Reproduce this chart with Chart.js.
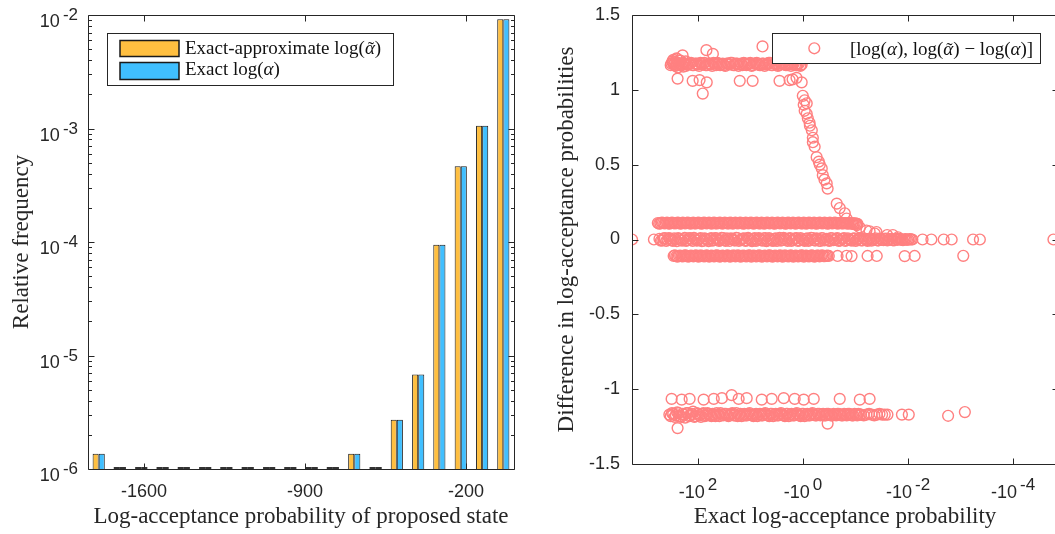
<!DOCTYPE html>
<html>
<head>
<meta charset="utf-8">
<script src="https://cdn.jsdelivr.net/npm/chart.js@4.4.1/dist/chart.umd.min.js"></script>
<style>
  html, body { margin: 0; padding: 0; background: #fff; overflow: hidden; }
  #wrap { position: relative; width: 1055px; height: 534px; overflow: hidden; }
  canvas { position: absolute; top: 0; }
  #histChart { left: 0; }
  #diffChart { left: 530px; }
</style>
</head>
<body>
<div id="wrap">
  <canvas id="histChart" width="530" height="534"></canvas>
  <canvas id="diffChart" width="545" height="534"></canvas>
</div>
<script>
// ---- histogram of log-acceptance probabilities ----
const binCenters = [-1797, -1705, -1612, -1519, -1427, -1334, -1242, -1149, -1056, -964,
                    -871, -779, -686, -593, -501, -408, -316, -223, -130, -38];
const freqApprox = [1.36e-6, 0, 0, 0, 0, 0, 0, 0, 0, 0,
                    0, 0, 1.36e-6, 0, 2.72e-6, 6.8e-6, 9.45e-5, 4.66e-4, 1.06e-3, 9.16e-3];
const freqExact  = [1.36e-6, 0, 0, 0, 0, 0, 0, 0, 0, 0,
                    0, 0, 1.36e-6, 0, 2.72e-6, 6.8e-6, 9.45e-5, 4.66e-4, 1.06e-3, 9.16e-3];
const histTicks = [-1600, -900, -200];
const histDecades = [-6, -5, -4, -3, -2];

// ---- difference scatter: [exact log(alpha), log(alpha~) - log(alpha)] ----
const diffXExponents = [2, 0, -2, -4];
const diffYTicks = [-1.5, -1, -0.5, 0, 0.5, 1, 1.5];

const topBand = [[-330,1.165],[-320,1.175],[-305,1.19],[-295,1.2],[-285,1.17],[-270,1.185],[-254,1.165],[-250,1.205],[-240,1.15],[-226,1.175],[-215,1.195],[-202,1.17],[-190,1.155],[-180,1.175],[-170,1.19],[-160,1.17],[-143,1.175],[-127,1.165],[-113,1.175],[-101,1.17],[-90,1.18],[-80,1.17],[-71.5,1.165],[-63.7,1.175],[-56.8,1.17],[-50.6,1.18],[-45.1,1.165],[-40.2,1.175],[-35.8,1.17],[-31.9,1.165],[-28.4,1.175],[-25.3,1.17],[-22.6,1.18],[-20.1,1.165],[-17.9,1.175],[-16,1.17],[-14.2,1.165],[-12.7,1.175],[-11.3,1.17],[-10.1,1.18],[-9,1.165],[-8,1.175],[-7.15,1.17],[-6.37,1.165],[-5.68,1.175],[-5.06,1.17],[-4.51,1.18],[-4.02,1.165],[-3.58,1.175],[-3.19,1.17],[-2.84,1.165],[-2.53,1.175],[-2.26,1.17],[-2.01,1.165],[-1.79,1.175],[-1.6,1.17],[-1.42,1.165],[-1.27,1.17],[-1.13,1.16],[-1.06,1.17]];
const topBand2 = [[-302,1.18],[-269,1.16],[-240,1.18],[-214,1.165],[-191,1.18],[-170,1.16],[-151,1.175],[-135,1.18],[-120,1.165],[-107,1.175],[-95,1.16],[-85,1.175],[-75.6,1.18],[-67.5,1.165],[-60.1,1.175],[-53.6,1.16],[-47.8,1.175],[-42.6,1.18],[-38,1.165],[-33.8,1.175],[-30.1,1.16],[-26.8,1.175],[-23.9,1.18],[-21.3,1.165],[-19,1.175],[-16.9,1.16],[-15.1,1.175],[-13.4,1.18],[-12,1.165],[-10.7,1.175],[-9.5,1.16],[-8.5,1.175],[-7.57,1.18],[-6.75,1.165],[-6.01,1.175],[-5.36,1.16],[-4.78,1.175],[-4.26,1.18],[-3.8,1.165],[-3.38,1.175],[-3.01,1.16],[-2.68,1.175],[-2.39,1.18],[-2.13,1.165],[-1.9,1.175],[-1.69,1.16],[-1.51,1.175],[-1.34,1.165],[-1.2,1.175],[-1.1,1.165]];
const topStray = [[-255,1.21],[-196,1.23],[-69,1.265],[-52,1.24],[-5.9,1.29],[-244,1.075],[-126,1.06],[-93,1.065],[-68,1.05],[-81,0.975],[-16,1.06],[-9.1,1.06],[-2.8,1.06],[-1.8,1.065],[-1.58,1.07],[-1.33,1.08],[-1.06,1.05]];
const slopePoints = [[-1.01,0.96],[-0.93,0.93],[-0.97,0.9],[-0.85,0.91],[-0.93,0.86],[-0.85,0.84],[-0.81,0.81],[-0.75,0.78],[-0.74,0.76],[-0.68,0.73],[-0.65,0.68],[-0.65,0.65],[-0.6,0.62],[-0.55,0.55],[-0.5,0.52],[-0.48,0.5],[-0.44,0.475],[-0.42,0.43],[-0.39,0.4],[-0.354,0.375],[-0.34,0.34],[-0.228,0.24],[-0.2,0.21],[-0.16,0.175],[-0.148,0.14],[-0.113,0.11],[-0.095,0.095],[-0.083,0.08],[-0.062,0.06],[-0.054,0.055],[-0.043,0.04],[-0.04,0.05],[-0.025,0.03],[-0.0195,0.03],[-0.0155,0.015]];
const upperBand = [[-580,0.11],[-517,0.108],[-461,0.112],[-411,0.11],[-366,0.107],[-326,0.112],[-291,0.11],[-259,0.109],[-231,0.112],[-206,0.108],[-183,0.11],[-164,0.112],[-146,0.109],[-130,0.11],[-116,0.107],[-103,0.111],[-92,0.11],[-82,0.108],[-73,0.112],[-65,0.11],[-58,0.109],[-51.7,0.111],[-46.1,0.108],[-41.1,0.11],[-36.6,0.112],[-32.6,0.109],[-29.1,0.11],[-25.9,0.108],[-23.1,0.111],[-20.6,0.11],[-18.3,0.109],[-16.4,0.112],[-14.6,0.11],[-13,0.108],[-11.6,0.11],[-10.3,0.111],[-9.2,0.109],[-8.2,0.11],[-7.3,0.112],[-6.5,0.108],[-5.8,0.11],[-5.17,0.109],[-4.61,0.111],[-4.11,0.11],[-3.66,0.108],[-3.26,0.11],[-2.91,0.112],[-2.59,0.109],[-2.31,0.11],[-2.06,0.108],[-1.83,0.111],[-1.64,0.11],[-1.46,0.109],[-1.3,0.11],[-1.16,0.112],[-1.03,0.108],[-0.92,0.11],[-0.82,0.109],[-0.73,0.111],[-0.65,0.11],[-0.58,0.108],[-0.517,0.11],[-0.461,0.111],[-0.411,0.109],[-0.366,0.11],[-0.326,0.108],[-0.291,0.11],[-0.259,0.111],[-0.231,0.109],[-0.206,0.11],[-0.183,0.108],[-0.164,0.11],[-0.146,0.107],[-0.13,0.11],[-0.116,0.105],[-0.103,0.108],[-0.092,0.104]];
const upperBand2 = [[-548,0.106],[-488,0.113],[-435,0.107],[-388,0.113],[-345,0.106],[-308,0.113],[-275,0.107],[-245,0.113],[-218,0.106],[-194,0.113],[-173,0.107],[-155,0.113],[-138,0.106],[-123,0.113],[-109,0.107],[-97,0.113],[-87,0.106],[-77.5,0.113],[-69,0.107],[-61.5,0.113],[-54.8,0.106],[-48.8,0.113],[-43.5,0.107],[-38.8,0.113],[-34.5,0.106],[-30.8,0.113],[-27.5,0.107],[-24.5,0.113],[-21.8,0.106],[-19.4,0.113],[-17.3,0.107],[-15.5,0.113],[-13.8,0.106],[-12.3,0.113],[-10.9,0.107],[-9.7,0.113],[-8.7,0.106],[-7.75,0.113],[-6.9,0.107],[-6.15,0.113],[-5.48,0.106],[-4.88,0.113],[-4.35,0.107],[-3.88,0.113],[-3.45,0.106],[-3.08,0.113],[-2.75,0.107],[-2.45,0.113],[-2.18,0.106],[-1.94,0.113],[-1.73,0.107],[-1.55,0.113],[-1.38,0.106],[-1.23,0.113],[-1.09,0.107],[-0.97,0.113],[-0.87,0.106],[-0.775,0.113],[-0.69,0.107],[-0.615,0.113],[-0.548,0.106],[-0.488,0.113],[-0.435,0.107],[-0.388,0.113],[-0.345,0.106],[-0.308,0.113],[-0.275,0.107],[-0.245,0.113],[-0.218,0.106],[-0.194,0.112],[-0.173,0.107],[-0.155,0.11],[-0.138,0.106],[-0.123,0.108],[-0.109,0.104],[-0.097,0.106]];
const zeroBand = [[-540,0.004],[-478,-0.006],[-425,0.009],[-380,-0.002],[-338,0.006],[-300,-0.009],[-268,0.002],[-238,0.01],[-212,-0.005],[-189,0.003],[-168,-0.01],[-150,0.007],[-133,-0.002],[-119,0.011],[-106,-0.007],[-94,0.004],[-84,-0.011],[-75,0.008],[-66.5,-0.003],[-59,0.005],[-53,-0.008],[-47,0.01],[-42,0.001],[-37.5,-0.006],[-33.3,0.009],[-29.7,-0.01],[-26.5,0.003],[-23.6,0.007],[-21,-0.004],[-18.7,0.011],[-16.6,-0.009],[-14.8,0.002],[-13.2,0.008],[-11.8,-0.006],[-10.5,0.005],[-9.35,-0.011],[-8.3,0.009],[-7.4,-0.002],[-6.6,0.006],[-5.9,-0.008],[-5.25,0.01],[-4.68,-0.004],[-4.17,0.003],[-3.72,-0.01],[-3.31,0.008],[-2.95,0.001],[-2.63,-0.007],[-2.34,0.011],[-2.09,-0.003],[-1.86,0.006],[-1.66,-0.009],[-1.48,0.004],[-1.32,0.009],[-1.17,-0.006],[-1.05,0.002],[-0.93,-0.01],[-0.83,0.007],[-0.74,-0.003],[-0.66,0.01],[-0.59,-0.007],[-0.525,0.004],[-0.468,-0.01],[-0.417,0.008],[-0.372,0.001],[-0.331,-0.006],[-0.295,0.009],[-0.263,-0.004],[-0.234,0.006],[-0.209,-0.009],[-0.186,0.003],[-0.166,0.01],[-0.148,-0.005],[-0.132,0.002],[-0.117,-0.008],[-0.105,0.007],[-0.093,-0.002],[-0.083,0.009],[-0.074,-0.006],[-0.066,0.004],[-0.059,-0.009],[-0.0525,0.006],[-0.0468,-0.003],[-0.0417,0.008],[-0.0372,-0.007],[-0.0331,0.003],[-0.0295,-0.005],[-0.0263,0.006],[-0.0234,-0.002],[-0.0209,0.004],[-0.0186,-0.006],[-0.0166,0.002],[-0.0148,0.005],[-0.0132,-0.003],[-0.0117,0.001],[-0.0105,-0.002],[-0.0093,0.003],[-0.0083,0]];
const zeroBand2 = [[-508,-0.008],[-451,0.007],[-402,-0.01],[-358,0.01],[-318,-0.004],[-284,0.008],[-252,-0.011],[-225,0.005],[-200,-0.008],[-178,0.011],[-159,-0.004],[-141,0.009],[-126,-0.01],[-112,0.003],[-100,-0.006],[-89,0.01],[-79,-0.008],[-70.6,0.005],[-62.6,-0.011],[-56,0.009],[-50,-0.004],[-44.4,0.007],[-39.7,-0.009],[-35.3,0.011],[-31.5,-0.005],[-28.1,0.008],[-25,-0.01],[-22.2,0.004],[-19.8,-0.007],[-17.6,0.01],[-15.7,-0.003],[-14,0.006],[-12.5,-0.01],[-11.1,0.011],[-9.9,-0.005],[-8.8,0.004],[-7.85,-0.009],[-7,0.01],[-6.25,-0.004],[-5.57,0.007],[-4.96,-0.011],[-4.42,0.009],[-3.94,-0.006],[-3.51,0.004],[-3.13,-0.009],[-2.79,0.011],[-2.48,-0.004],[-2.21,0.006],[-1.97,-0.01],[-1.76,0.009],[-1.57,-0.003],[-1.4,0.007],[-1.25,-0.01],[-1.11,0.01],[-0.99,-0.005],[-0.88,0.004],[-0.785,-0.009],[-0.7,0.011],[-0.625,-0.004],[-0.557,0.007],[-0.496,-0.008],[-0.442,0.01],[-0.394,-0.006],[-0.351,0.005],[-0.313,-0.01],[-0.279,0.008],[-0.248,-0.003],[-0.221,0.01],[-0.197,-0.007],[-0.176,0.005],[-0.157,-0.01],[-0.14,0.008],[-0.125,-0.004],[-0.111,0.006],[-0.099,-0.009],[-0.088,0.004],[-0.0785,-0.006],[-0.07,0.008],[-0.0625,-0.004],[-0.0557,0.005],[-0.0496,-0.008],[-0.0442,0.003],[-0.0394,-0.005],[-0.0351,0.006],[-0.0313,-0.003],[-0.0279,0.004],[-0.0248,-0.006],[-0.0221,0.003],[-0.0197,-0.004],[-0.0176,0.005],[-0.0157,-0.002],[-0.014,0.003],[-0.0125,-0.004],[-0.0111,0.002],[-0.0099,-0.001],[-0.0088,0.001]];
const zeroStray = [[-1795,0],[-689,0],[-0.0053,0],[-0.0036,0],[-0.0021,0],[-0.00148,0],[-0.00058,0],[-0.00043,0],[-0.0000171,0]];
const lowerBand = [[-290,-0.11],[-258,-0.112],[-230,-0.109],[-205,-0.111],[-183,-0.108],[-163,-0.11],[-145,-0.112],[-129,-0.109],[-115,-0.11],[-103,-0.111],[-91.5,-0.108],[-81.5,-0.11],[-72.6,-0.112],[-64.7,-0.109],[-57.7,-0.11],[-51.4,-0.111],[-45.8,-0.108],[-40.8,-0.11],[-36.4,-0.112],[-32.4,-0.11],[-28.9,-0.109],[-25.7,-0.111],[-22.9,-0.11],[-20.4,-0.108],[-18.2,-0.11],[-16.2,-0.112],[-14.5,-0.109],[-12.9,-0.11],[-11.5,-0.111],[-10.2,-0.108],[-9.1,-0.11],[-8.12,-0.112],[-7.24,-0.11],[-6.45,-0.109],[-5.75,-0.111],[-5.12,-0.11],[-4.56,-0.108],[-4.07,-0.11],[-3.62,-0.112],[-3.23,-0.109],[-2.88,-0.11],[-2.57,-0.111],[-2.29,-0.108],[-2.04,-0.11],[-1.82,-0.112],[-1.62,-0.11],[-1.44,-0.109],[-1.29,-0.111],[-1.15,-0.11],[-1.02,-0.108],[-0.91,-0.11],[-0.81,-0.112],[-0.72,-0.109],[-0.645,-0.11],[-0.575,-0.111],[-0.512,-0.108],[-0.456,-0.11],[-0.407,-0.112],[-0.362,-0.109],[-0.323,-0.11]];
const lowerBand2 = [[-274,-0.106],[-244,-0.114],[-217,-0.107],[-194,-0.113],[-173,-0.106],[-154,-0.114],[-137,-0.107],[-122,-0.113],[-109,-0.106],[-97,-0.114],[-86.5,-0.107],[-77,-0.113],[-68.6,-0.106],[-61.1,-0.114],[-54.5,-0.107],[-48.6,-0.113],[-43.3,-0.106],[-38.6,-0.114],[-34.4,-0.107],[-30.6,-0.113],[-27.3,-0.106],[-24.3,-0.114],[-21.6,-0.107],[-19.3,-0.113],[-17.2,-0.106],[-15.3,-0.114],[-13.7,-0.107],[-12.2,-0.113],[-10.8,-0.106],[-9.65,-0.114],[-8.6,-0.107],[-7.67,-0.113],[-6.84,-0.106],[-6.1,-0.114],[-5.43,-0.107],[-4.84,-0.113],[-4.31,-0.106],[-3.84,-0.114],[-3.43,-0.107],[-3.05,-0.113],[-2.72,-0.106],[-2.43,-0.114],[-2.16,-0.107],[-1.93,-0.113],[-1.72,-0.106],[-1.53,-0.114],[-1.36,-0.107],[-1.22,-0.113],[-1.08,-0.106],[-0.965,-0.114],[-0.86,-0.107],[-0.765,-0.113],[-0.682,-0.106],[-0.61,-0.114],[-0.543,-0.107],[-0.484,-0.113],[-0.431,-0.106],[-0.384,-0.112],[-0.343,-0.108]];
const lowerStray = [[-0.22,-0.11],[-0.148,-0.109],[-0.119,-0.111],[-0.059,-0.11],[-0.0395,-0.11],[-0.0116,-0.111],[-0.0075,-0.11],[-0.00089,-0.109]];
const bottomBand = [[-350,-1.17],[-312,-1.16],[-278,-1.185],[-248,-1.155],[-221,-1.18],[-197,-1.165],[-175,-1.19],[-156,-1.16],[-139,-1.175],[-124,-1.15],[-111,-1.18],[-98.6,-1.165],[-87.9,-1.185],[-78.3,-1.16],[-69.8,-1.175],[-62.2,-1.165],[-55.4,-1.18],[-49.4,-1.17],[-44,-1.16],[-39.2,-1.18],[-35,-1.17],[-31.2,-1.165],[-27.8,-1.175],[-24.7,-1.17],[-22.1,-1.16],[-19.7,-1.175],[-17.5,-1.18],[-15.6,-1.165],[-13.9,-1.17],[-12.4,-1.175],[-11.1,-1.165],[-9.86,-1.17],[-8.79,-1.18],[-7.83,-1.165],[-6.98,-1.17],[-6.22,-1.175],[-5.54,-1.165],[-4.94,-1.17],[-4.4,-1.18],[-3.92,-1.165],[-3.5,-1.17],[-3.12,-1.175],[-2.78,-1.165],[-2.47,-1.17],[-2.21,-1.18],[-1.97,-1.165],[-1.75,-1.17],[-1.56,-1.175],[-1.39,-1.165],[-1.24,-1.17],[-1.11,-1.18],[-0.986,-1.165],[-0.879,-1.17],[-0.783,-1.175],[-0.698,-1.165],[-0.622,-1.17],[-0.554,-1.175],[-0.494,-1.165],[-0.44,-1.17],[-0.392,-1.175],[-0.35,-1.165],[-0.312,-1.17],[-0.278,-1.175],[-0.247,-1.17],[-0.221,-1.165],[-0.197,-1.17],[-0.175,-1.175],[-0.156,-1.17],[-0.139,-1.165],[-0.124,-1.17],[-0.111,-1.175],[-0.0986,-1.17],[-0.0879,-1.165],[-0.0783,-1.17],[-0.0698,-1.175],[-0.0622,-1.17],[-0.0554,-1.165],[-0.0494,-1.17],[-0.044,-1.175],[-0.0392,-1.17],[-0.035,-1.165],[-0.0312,-1.17],[-0.0278,-1.17],[-0.0247,-1.17]];
const bottomBand2 = [[-330,-1.18],[-295,-1.165],[-263,-1.175],[-234,-1.16],[-209,-1.185],[-186,-1.17],[-165,-1.16],[-147,-1.18],[-131,-1.165],[-117,-1.185],[-105,-1.16],[-93,-1.175],[-83,-1.165],[-74,-1.18],[-66,-1.16],[-58.7,-1.175],[-52.3,-1.165],[-46.6,-1.18],[-41.5,-1.17],[-37,-1.16],[-33,-1.175],[-29.4,-1.165],[-26.2,-1.18],[-23.4,-1.165],[-20.8,-1.175],[-18.6,-1.16],[-16.5,-1.175],[-14.7,-1.18],[-13.1,-1.165],[-11.7,-1.175],[-10.4,-1.16],[-9.3,-1.175],[-8.3,-1.17],[-7.4,-1.18],[-6.6,-1.165],[-5.87,-1.175],[-5.23,-1.16],[-4.66,-1.175],[-4.15,-1.165],[-3.7,-1.18],[-3.3,-1.165],[-2.94,-1.175],[-2.62,-1.16],[-2.34,-1.175],[-2.08,-1.165],[-1.86,-1.18],[-1.65,-1.165],[-1.47,-1.175],[-1.31,-1.16],[-1.17,-1.175],[-1.04,-1.165],[-0.93,-1.18],[-0.83,-1.165],[-0.74,-1.175],[-0.66,-1.16],[-0.587,-1.175],[-0.523,-1.165],[-0.466,-1.175],[-0.415,-1.165],[-0.37,-1.175],[-0.33,-1.165],[-0.294,-1.175],[-0.262,-1.165],[-0.234,-1.175],[-0.208,-1.165],[-0.186,-1.175],[-0.165,-1.165],[-0.147,-1.175],[-0.131,-1.165],[-0.117,-1.175],[-0.104,-1.165],[-0.093,-1.175],[-0.083,-1.17]];
const bottomStray = [[-0.0131,-1.17],[-0.0097,-1.17],[-0.00173,-1.178],[-0.00083,-1.153],[-317,-1.065],[-204,-1.07],[-144,-1.065],[-78,-1.07],[-50,-1.065],[-35,-1.06],[-22.8,-1.04],[-16.8,-1.065],[-11.8,-1.06],[-6.1,-1.07],[-3.94,-1.065],[-2.33,-1.06],[-1.44,-1.065],[-0.97,-1.07],[-0.625,-1.065],[-0.2,-1.065],[-0.083,-1.07],[-0.054,-1.065],[-244,-1.26],[-0.34,-1.23]];

const INK = '#262626';
const SANS = '"Liberation Sans", Arial, sans-serif';
const SERIF = '"Liberation Serif", "Times New Roman", serif';
const ORANGE = '#FFBF40';
const BLUE = '#40BFFF';
const PINK = '#FF8080';

// "10^-2" style label: base on the baseline, exponent raised
function powLabel(ctx, base, exp, x, y, align, raise) {
  ctx.font = '18px ' + SANS;
  const wb = ctx.measureText(base).width;
  ctx.font = '17px ' + SANS;
  const we = ctx.measureText(exp).width;
  const gap = 3;
  const x0 = align === 'right' ? x - (wb + gap + we) : x - (wb + gap + we) / 2;
  ctx.textAlign = 'left';
  ctx.textBaseline = 'alphabetic';
  ctx.font = '18px ' + SANS;
  ctx.fillText(base, x0, y);
  ctx.font = '17px ' + SANS;
  ctx.fillText(exp, x0 + wb + gap, y - raise);
}

// serif text; pieces flagged 'i' are italic, 't' are italic with a tilde on top
function richText(ctx, parts, x, y, size) {
  let cx = x;
  ctx.textAlign = 'left';
  ctx.textBaseline = 'alphabetic';
  for (const [txt, style] of parts) {
    ctx.font = (style ? 'italic ' : '') + size + 'px ' + SERIF;
    ctx.fillText(txt, cx, y);
    const w = ctx.measureText(txt).width;
    if (style === 't') {
      ctx.font = size + 'px ' + SERIF;
      ctx.textAlign = 'center';
      ctx.fillText('\u02DC', cx + w / 2 + 1, y + 1);
      ctx.textAlign = 'left';
    }
    cx += w;
  }
}

function axisTitle(ctx, text, x, y, rotate) {
  ctx.save();
  ctx.translate(x, y);
  if (rotate) ctx.rotate(-Math.PI / 2);
  ctx.font = '23px ' + SERIF;
  ctx.textAlign = 'center';
  ctx.textBaseline = 'alphabetic';
  ctx.fillText(text, 0, 0);
  ctx.restore();
}

const px = v => Math.round(v) + 0.5;

const histAxes = {
  id: 'histAxes',
  afterDatasetsDraw(chart) {
    // empty bins show up as flat bars lying on the axis
    const {ctx, chartArea: a} = chart;
    ctx.save();
    ctx.fillStyle = '#333';
    chart.data.datasets.forEach((ds, di) => {
      const meta = chart.getDatasetMeta(di);
      ds.data.forEach((d, i) => {
        if (d.y !== null) return;
        const el = meta.data[i];
        ctx.fillRect(el.x - el.width / 2, a.bottom - 2, el.width, 2);
      });
    });
    ctx.restore();
  },
  afterDraw(chart) {
    const {ctx, chartArea: a} = chart;
    const x = chart.scales.x, y = chart.scales.y;
    const L = px(a.left), R = px(a.right), T = px(a.top), B = px(a.bottom);
    ctx.save();
    ctx.strokeStyle = INK;
    ctx.lineWidth = 1;
    ctx.beginPath();
    ctx.rect(L, T, R - L, B - T);
    for (const v of histTicks) {
      const p = px(x.getPixelForValue(v));
      ctx.moveTo(p, B); ctx.lineTo(p, B - 6);
      ctx.moveTo(p, T); ctx.lineTo(p, T + 6);
    }
    const last = histDecades[histDecades.length - 1];
    for (const k of histDecades) {
      const p = px(y.getPixelForValue(Math.pow(10, k)));
      ctx.moveTo(L, p); ctx.lineTo(L + 6, p);
      ctx.moveTo(R, p); ctx.lineTo(R - 6, p);
      if (k === last) continue;
      for (let m = 2; m < 10; m++) {
        const q = px(y.getPixelForValue(m * Math.pow(10, k)));
        ctx.moveTo(L, q); ctx.lineTo(L + 3.5, q);
        ctx.moveTo(R, q); ctx.lineTo(R - 3.5, q);
      }
    }
    ctx.stroke();

    ctx.fillStyle = INK;
    ctx.font = '18px ' + SANS;
    ctx.textAlign = 'center';
    ctx.textBaseline = 'alphabetic';
    for (const v of histTicks) ctx.fillText(String(v), x.getPixelForValue(v), a.bottom + 28);
    for (const k of histDecades) {
      const p = y.getPixelForValue(Math.pow(10, k));
      powLabel(ctx, '10', String(k), a.left - 10, p + 12, 'right', 7);
    }

    axisTitle(ctx, 'Log-acceptance probability of proposed state', (a.left + a.right) / 2, 523, false);
    axisTitle(ctx, 'Relative frequency', 28, (a.top + a.bottom) / 2, true);

    // legend
    ctx.fillStyle = '#fff';
    ctx.fillRect(107.5, 33.5, 286, 52);
    ctx.strokeRect(107.5, 33.5, 286, 52);
    ctx.lineWidth = 1.5;
    ctx.strokeStyle = '#1a1a1a';
    ctx.fillStyle = ORANGE;
    ctx.fillRect(120, 40.5, 59, 16);
    ctx.strokeRect(120, 40.5, 59, 16);
    ctx.fillStyle = BLUE;
    ctx.fillRect(120, 62.5, 59, 17);
    ctx.strokeRect(120, 62.5, 59, 17);
    ctx.fillStyle = '#111';
    richText(ctx, [['Exact-approximate log(', ''], ['\u03B1', 't'], [')', '']], 185, 53.5, 19);
    richText(ctx, [['Exact log(', ''], ['\u03B1', 'i'], [')', '']], 185, 75, 19);
    ctx.restore();
  }
};

const diffAxes = {
  id: 'diffAxes',
  afterDraw(chart) {
    const {ctx, chartArea: a} = chart;
    const x = chart.scales.x, y = chart.scales.y;
    const L = px(a.left), R = px(a.right), T = px(a.top), B = px(a.bottom);
    ctx.save();
    ctx.strokeStyle = INK;
    ctx.lineWidth = 1;
    ctx.beginPath();
    ctx.rect(L, T, R - L, B - T);
    for (const e of diffXExponents) {
      const p = px(x.getPixelForValue(Math.pow(10, e)));
      ctx.moveTo(p, B); ctx.lineTo(p, B - 6);
      ctx.moveTo(p, T); ctx.lineTo(p, T + 6);
    }
    for (const v of diffYTicks) {
      const p = px(y.getPixelForValue(v));
      ctx.moveTo(L, p); ctx.lineTo(L + 6, p);
      ctx.moveTo(R, p); ctx.lineTo(R - 6, p);
    }
    ctx.stroke();

    ctx.fillStyle = INK;
    ctx.font = '18px ' + SANS;
    ctx.textAlign = 'right';
    ctx.textBaseline = 'middle';
    for (const v of diffYTicks) ctx.fillText(String(v), a.left - 12, y.getPixelForValue(v));
    for (const e of diffXExponents) {
      powLabel(ctx, '-10', String(e), x.getPixelForValue(Math.pow(10, e)), a.bottom + 34, 'center', 8);
    }

    axisTitle(ctx, 'Exact log-acceptance probability', (a.left + a.right) / 2, 523, false);
    axisTitle(ctx, 'Difference in log-acceptance probabilities', 43, (a.top + a.bottom) / 2, true);

    // legend
    ctx.fillStyle = '#fff';
    ctx.fillRect(242.5, 33.5, 268, 30);
    ctx.strokeStyle = INK;
    ctx.strokeRect(242.5, 33.5, 268, 30);
    ctx.strokeStyle = PINK;
    ctx.lineWidth = 1.4;
    ctx.beginPath();
    ctx.arc(284.3, 48.3, 5.4, 0, Math.PI * 2);
    ctx.stroke();
    ctx.fillStyle = '#111';
    richText(ctx, [['[log(', ''], ['\u03B1', 'i'], ['), log(', ''], ['\u03B1', 't'],
                   [') \u2212 log(', ''], ['\u03B1', 'i'], [')]', '']], 320, 55, 19);
    ctx.restore();
  }
};

new Chart(document.getElementById('histChart'), {
  type: 'bar',
  data: {
    datasets: [
      {
        label: 'Exact-approximate',
        data: binCenters.map((c, i) => ({x: c, y: freqApprox[i] || null})),
        backgroundColor: ORANGE,
        borderColor: '#1a1a1a',
        borderWidth: 1
      },
      {
        label: 'Exact',
        data: binCenters.map((c, i) => ({x: c, y: freqExact[i] || null})),
        backgroundColor: BLUE,
        borderColor: '#1a1a1a',
        borderWidth: 1
      }
    ]
  },
  options: {
    responsive: false,
    devicePixelRatio: 1,
    animation: false,
    events: [],
    layout: { padding: { left: 88, right: 16, top: 15, bottom: 65 } },
    datasets: { bar: { categoryPercentage: 0.575, barPercentage: 1 } },
    plugins: { legend: { display: false }, tooltip: { enabled: false } },
    scales: {
      x: { type: 'linear', display: false, offset: false, min: -1843.5, max: 8.5 },
      y: { type: 'logarithmic', display: false, min: 1e-6, max: 1e-2 }
    }
  },
  plugins: [histAxes]
});

const diffPoints = [].concat(topBand, topBand2, topStray, slopePoints, upperBand, upperBand2,
                             zeroBand, zeroBand2, zeroStray, lowerBand, lowerBand2, lowerStray,
                             bottomBand, bottomBand2, bottomStray);

new Chart(document.getElementById('diffChart'), {
  type: 'scatter',
  data: {
    datasets: [{
      label: 'difference',
      data: diffPoints.map(([la, d]) => ({x: -la, y: d})),
      pointRadius: 5.4,
      pointBorderWidth: 1.4,
      pointBorderColor: PINK,
      pointBackgroundColor: 'rgba(0,0,0,0)'
    }]
  },
  options: {
    responsive: false,
    devicePixelRatio: 1,
    animation: false,
    events: [],
    layout: { padding: { left: 102, right: 17, top: 15, bottom: 70 } },
    plugins: { legend: { display: false }, tooltip: { enabled: false } },
    scales: {
      x: { type: 'logarithmic', display: false, reverse: true, min: 1.4e-5, max: 1800 },
      y: { type: 'linear', display: false, min: -1.5, max: 1.5 }
    }
  },
  plugins: [diffAxes]
});
</script>
</body>
</html>
